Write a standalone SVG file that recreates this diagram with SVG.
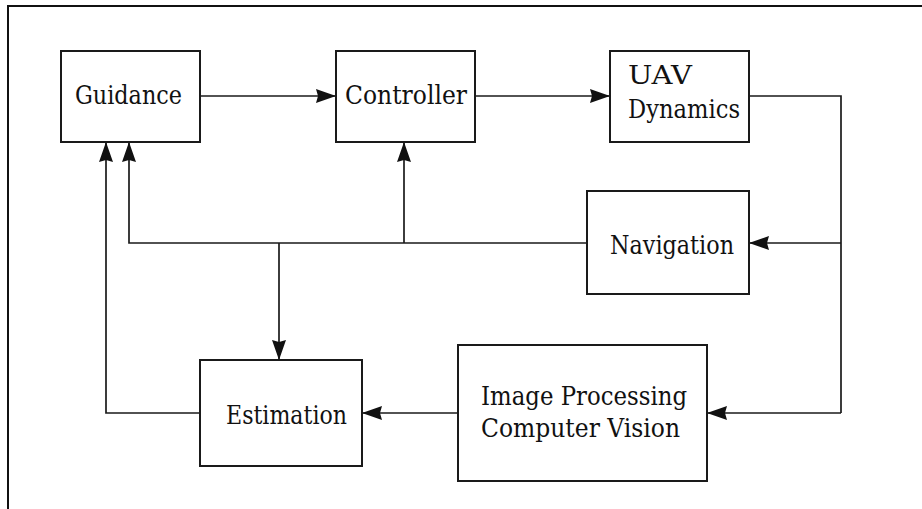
<svg xmlns="http://www.w3.org/2000/svg" width="922" height="509" viewBox="0 0 922 509">
<defs>
<style>
.box{fill:#fff;stroke:#1a1a1a;stroke-width:2}
.ln{fill:none;stroke:#1a1a1a;stroke-width:1.7}
.t{font-family:"DejaVu Serif","Liberation Serif",serif;font-size:26px;fill:#111}
</style>
<marker id="ah" viewBox="0 0 20 15" refX="20" refY="7.5" markerWidth="20" markerHeight="15" markerUnits="userSpaceOnUse" orient="auto">
<path d="M0,0.5 L20,7.5 L0,14.5 L2,7.5 Z" fill="#111"/>
</marker>
</defs>
<rect width="922" height="509" fill="#fff"/>
<path d="M8,509 V6 H922" fill="none" stroke="#111" stroke-width="2"/>

<g id="connectors">
<path class="ln" d="M200,96 H336" marker-end="url(#ah)"/>
<path class="ln" d="M475,96 H610" marker-end="url(#ah)"/>
<path class="ln" d="M749,96 H841 V413"/>
<path class="ln" d="M841,243 H749" marker-end="url(#ah)"/>
<path class="ln" d="M841,413 H707" marker-end="url(#ah)"/>
<path class="ln" d="M587,243 H129 V142" marker-end="url(#ah)"/>
<path class="ln" d="M404,243 V142" marker-end="url(#ah)"/>
<path class="ln" d="M279,243 V360" marker-end="url(#ah)"/>
<path class="ln" d="M458,413 H362" marker-end="url(#ah)"/>
<path class="ln" d="M200,413 H106 V142" marker-end="url(#ah)"/>
</g>

<g id="guidance">
<rect class="box" x="61" y="51" width="139" height="91"/>
<text class="t" x="75" y="104" textLength="107" lengthAdjust="spacingAndGlyphs">Guidance</text>
</g>
<g id="controller">
<rect class="box" x="336" y="51" width="139" height="91"/>
<text class="t" x="345" y="104" textLength="122" lengthAdjust="spacingAndGlyphs">Controller</text>
</g>
<g id="uav-dynamics">
<rect class="box" x="610" y="51" width="139" height="91"/>
<text class="t" x="628" y="84" textLength="64" lengthAdjust="spacingAndGlyphs">UAV</text>
<text class="t" x="628" y="118" textLength="112" lengthAdjust="spacingAndGlyphs">Dynamics</text>
</g>
<g id="navigation">
<rect class="box" x="587" y="191" width="162" height="103"/>
<text class="t" x="610" y="254" textLength="124" lengthAdjust="spacingAndGlyphs">Navigation</text>
</g>
<g id="estimation">
<rect class="box" x="200" y="360" width="162" height="106"/>
<text class="t" x="226" y="424" textLength="121" lengthAdjust="spacingAndGlyphs">Estimation</text>
</g>
<g id="image-processing">
<rect class="box" x="458" y="345" width="249" height="136"/>
<text class="t" x="481" y="405" textLength="206" lengthAdjust="spacingAndGlyphs">Image Processing</text>
<text class="t" x="481" y="437" textLength="199" lengthAdjust="spacingAndGlyphs">Computer Vision</text>
</g>
</svg>
